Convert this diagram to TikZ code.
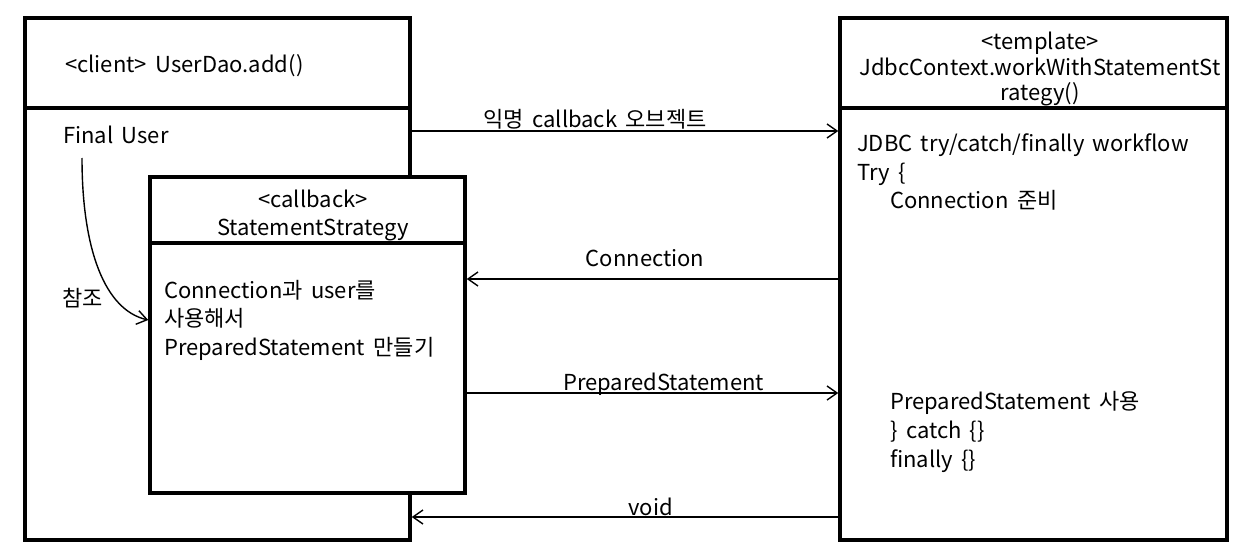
\documentclass[tikz,border=0pt]{standalone}
\usepackage{fontspec}
\setmainfont{Noto Sans CJK KR}[WordSpace=1.7]
\usetikzlibrary{arrows.meta}
\tikzset{
  box/.style={draw, line width=3.5pt, fill=white, inner sep=0pt},
  sep/.style={line width=3.5pt},
  msg/.style={line width=1.4pt, -{Straight Barb[length=10pt,width=14pt,line width=1.4pt]}},
  txt/.style={inner sep=0pt, font=\fontsize{22}{28}\selectfont},
  lw/.style={txt, anchor=base west},
  lc/.style={txt, anchor=base},
}
\begin{document}
\begin{tikzpicture}[x=1pt,y=-1pt]
\useasboundingbox (0,0) rectangle (1250,559);
% client box
\node[box, minimum width=385pt, minimum height=522pt] (client) at (217.5,279) {};
\draw[sep] (client.west |- 0,108) -- (client.east |- 0,108);
% template box
\node[box, minimum width=387pt, minimum height=522pt] (tmpl) at (1033.5,279) {};
\draw[sep] (tmpl.west |- 0,108) -- (tmpl.east |- 0,108);
% callback box
\node[box, minimum width=315pt, minimum height=316pt] (cb) at (307.5,335) {};
\draw[sep] (cb.west |- 0,243) -- (cb.east |- 0,243);

% texts
\node[lw] (t1) at (65,73) {<client>\ UserDao.add()};
\node[lw] (fu) at (63,144) {Final User};
\node[lc] (cb1) at (313,207) {<callback>};
\node[lc] (cb2) at (313,235) {StatementStrategy};
\node[lw] (cb3) at (164,298) {Connection과 user를};
\node[lw] (cb4) at (164,326) {사용해서};
\node[lw] (cb5) at (164,355) {PreparedStatement 만들기};
\node[lc] (tp1) at (1040,50) {<template>};
\node[lc] (tp2) at (1040,76) {JdbcContext.workWithStatementSt};
\node[lc] (tp3) at (1040,101) {rategy()};
\node[lw] (b1) at (857,152) {JDBC try/catch/finally workflow};
\node[lw] (b2) at (857,180) {Try \{};
\node[lw] (b3) at (890,208) {Connection 준비};
\node[lw] (b4) at (890,409) {PreparedStatement 사용};
\node[lw] (b5) at (890,438) {\} catch \{\}};
\node[lw] (b6) at (890,467) {finally \{\}};
\node[lw] (ref) at (62,306) {참조};

% curve
\coordinate (cs) at (82,158);
\draw[msg] (cs) .. controls (82,250) and (105,310) .. (cb.west |- 0,320);

% messages
\draw[msg] (client.east |- 0,131) -- node[lc, pos=0.43, yshift=3pt] (m1) {익명 callback 오브젝트} (tmpl.west |- 0,131);
\draw[msg] (tmpl.west |- 0,279) -- node[lc, pos=0.52, yshift=13pt] (m2) {Connection} (cb.east |- 0,279);
\draw[msg] (cb.east |- 0,393) -- node[lc, pos=0.53, yshift=3pt] (m3) {PreparedStatement} (tmpl.west |- 0,393);
\draw[msg] (tmpl.west |- 0,517) -- node[lc, pos=0.44, yshift=2pt] (m4) {void} (client.east |- 0,517);
\end{tikzpicture}
\end{document}
